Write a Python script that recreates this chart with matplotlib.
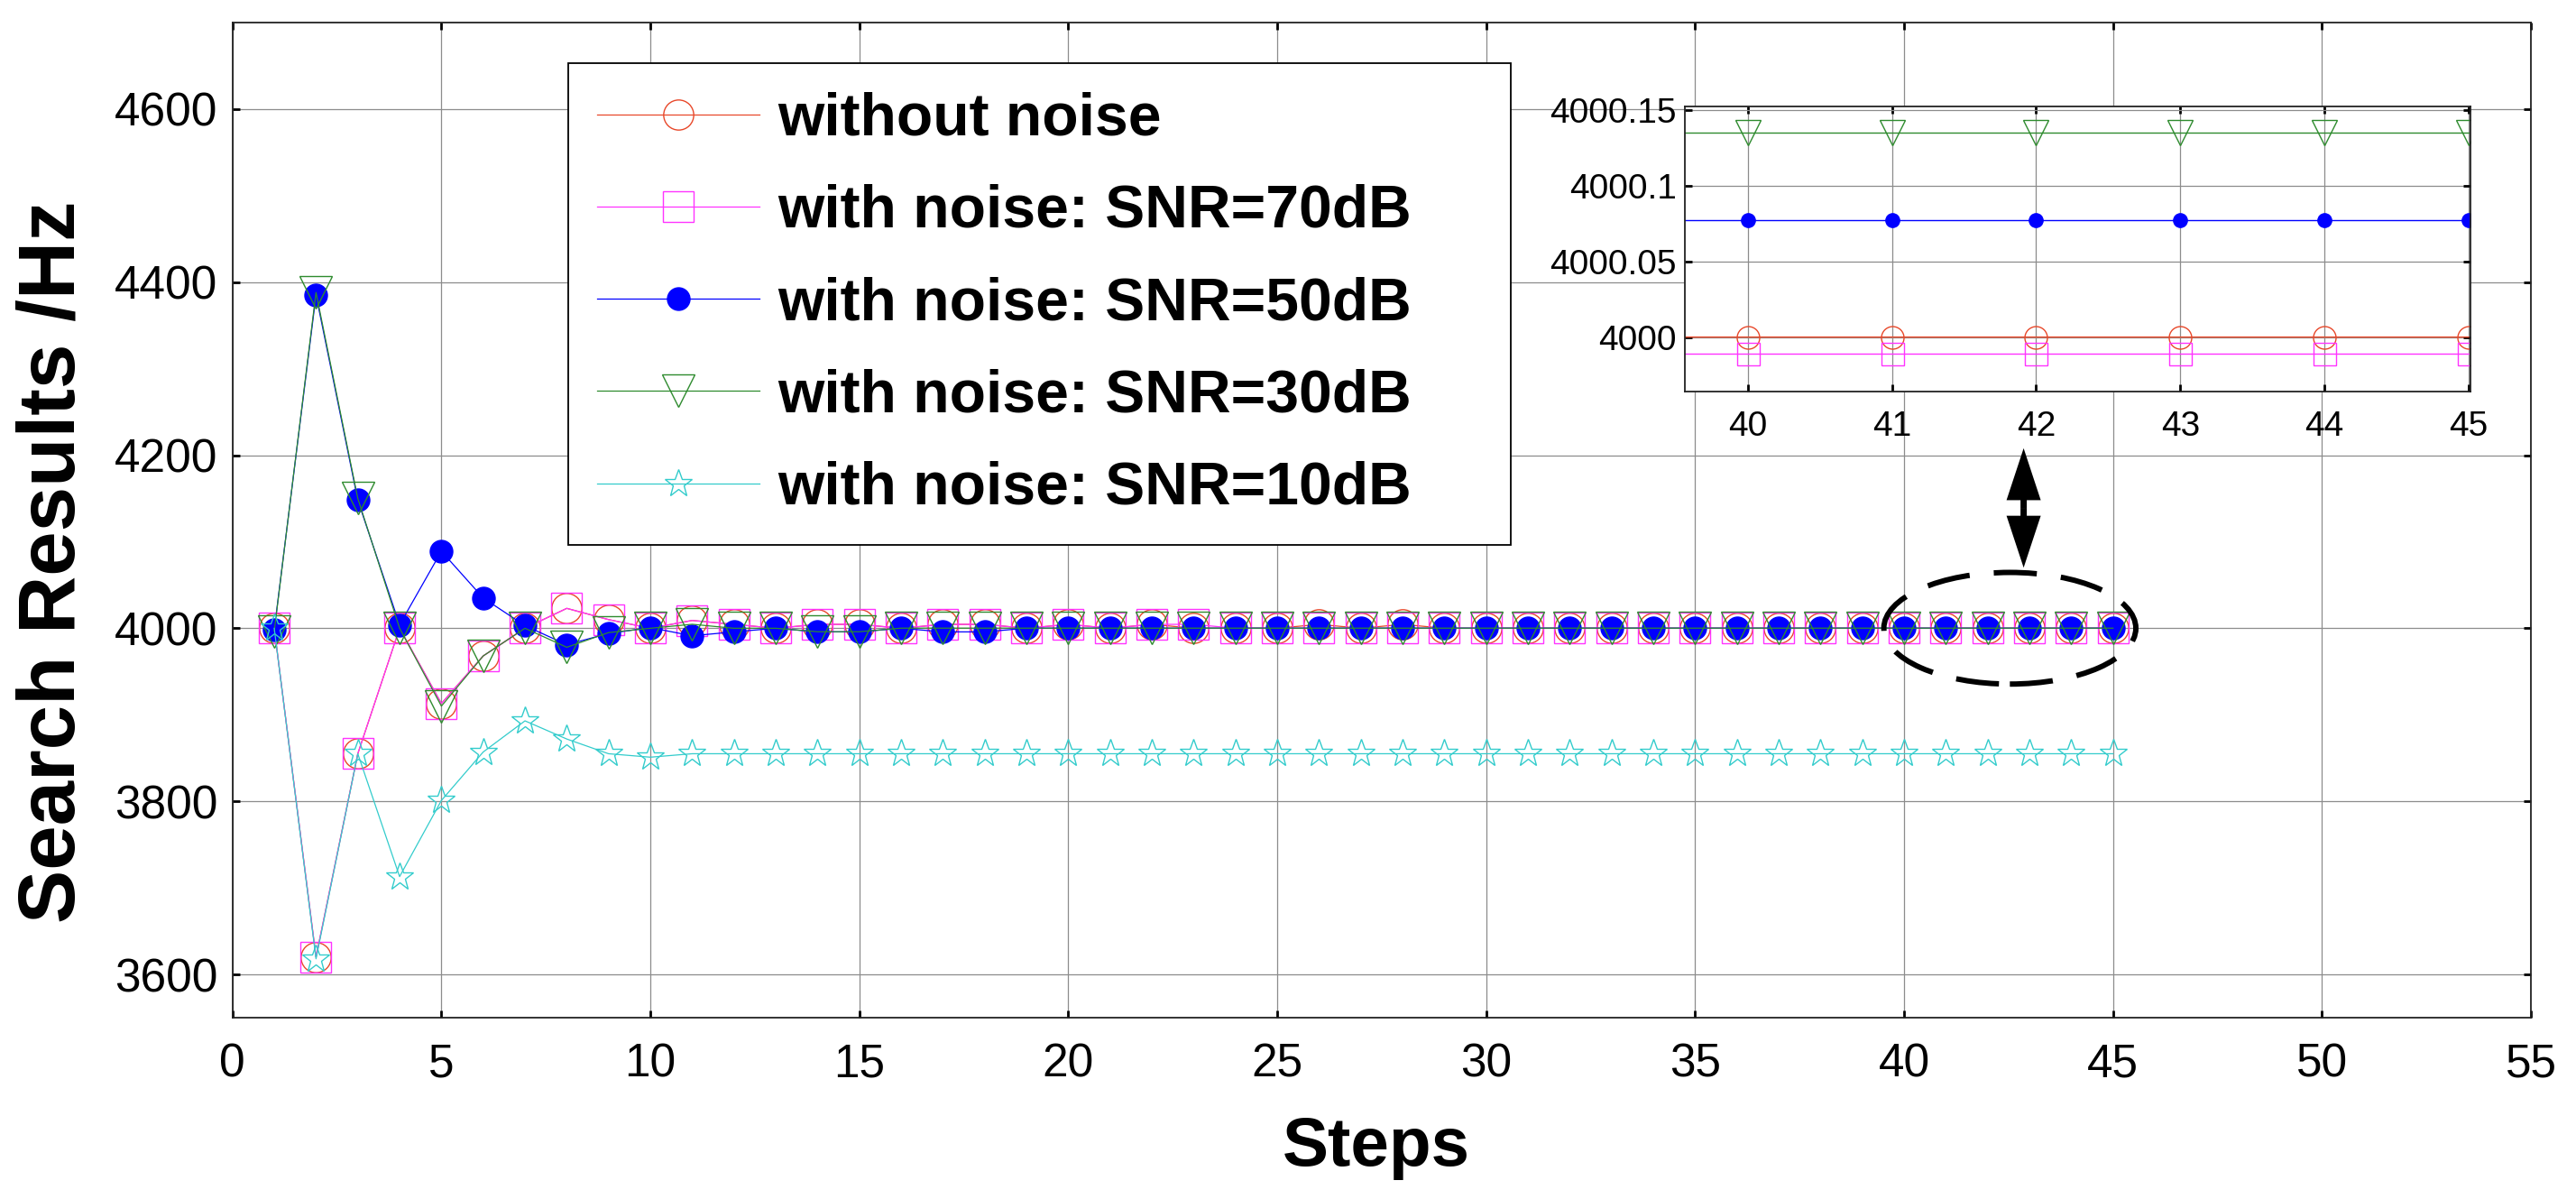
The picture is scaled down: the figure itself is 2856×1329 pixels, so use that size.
import numpy as np
import matplotlib
matplotlib.use("Agg")
import matplotlib.pyplot as plt
from matplotlib.patches import Ellipse

plt.rcParams["font.family"] = ["Liberation Sans", "DejaVu Sans"]

# ---- data ----
steps = np.arange(1, 46)

no_noise = [4000, 3620, 3855, 4000, 3913, 3968, 4000, 4023, 4010, 4000,
            4009, 4004.5, 4000, 4004.5, 4004.5, 4000, 4004.5, 4004.5, 4000, 4004.5,
            4000, 4004.5, 4000, 4000, 4000, 4004.5, 4000, 4004.5] + [4000.0] * 17
snr70 = [4000, 3620, 3855, 4000, 3913, 3968, 4000, 4023, 4010, 4000,
         4009, 4004.5, 4000, 4004.5, 4004.5, 4000, 4004.5, 4004.5, 4000, 4004.5,
         4000, 4004.5, 4004.5, 4000] + [3999.989] * 21
snr50 = [3998, 4385, 4148, 4004, 4089, 4035, 4003, 3981, 3994, 4000.7,
         3991.3, 3995.8, 4000, 3995.8, 3995.8, 4000, 3995.8, 3995.8] + [4000.077] * 27
snr30 = [3996.5, 4388, 4150, 4000, 3910, 3968, 4000, 3978, 3995, 4000,
         4004.6, 4000, 4000, 3996, 3996] + [4000.135] * 30
snr10 = [4000, 3618, 3855, 3713, 3801, 3857, 3893, 3872, 3855, 3851] + [3855] * 35

labels = ["without noise", "with noise: SNR=70dB", "with noise: SNR=50dB",
          "with noise: SNR=30dB", "with noise: SNR=10dB"]
series = [no_noise, snr70, snr50, snr30, snr10]

colors = ["#E8482A", "#FF33FF", "#0000FF", "#2E8B2E", "#33CCCC"]
markers = ["o", "s", "o", "v", "*"]
filled = [False, False, True, False, False]
ms_main = [24, 24, 18, 26, 23]
ms_inset = [18, 18, 11, 20, 18]

main_xticks = np.arange(0, 56, 5)
main_yticks = np.arange(3600, 4601, 200)
inset_xticks = np.arange(40, 46)
inset_yticks = [4000, 4000.05, 4000.1, 4000.15]
inset_yticklabels = ["4000", "4000.05", "4000.1", "4000.15"]

GRID = "#8c8c8c"


def style_axes(ax, size, xpad, ypad):
    ax.grid(True, color=GRID, lw=0.9, ls="-")
    ax.set_axisbelow(True)
    ax.tick_params(direction="in", top=True, right=True, length=6, width=2,
                   labelsize=size, colors="k")
    ax.tick_params(axis="x", pad=xpad)
    ax.tick_params(axis="y", pad=ypad)
    for sp in ax.spines.values():
        sp.set_linewidth(1.3)
        sp.set_color("#222222")


fig = plt.figure(figsize=(28.56, 13.29), dpi=100)
ax = fig.add_axes([0.09023, 0.15124, 0.8923, 0.8300])

for y, c, m, f, ms, lab in zip(series, colors, markers, filled, ms_main, labels):
    ax.plot(steps, y, color=c, lw=0.9, marker=m, ms=ms,
            mfc=c if f else "none", mec=c, mew=1.0, label=lab)

ax.set_xlim(0, 55)
ax.set_ylim(3550, 4700)
ax.set_xticks(main_xticks)
ax.set_yticks(main_yticks)
style_axes(ax, 37, 20, 12)

fig.text(60 / 2856, 1 - 623 / 1329, "Search Results /Hz", rotation=90,
         ha="center", va="center", fontsize=64, fontweight="bold")
fig.text(1526 / 2856, 1 - 1292 / 1329, "Steps", ha="center", va="baseline",
         fontsize=55, fontweight="bold")

leg = ax.legend(loc="upper left",
                bbox_to_anchor=(0.2206, 0.5448, 0.3659, 0.4025),
                bbox_transform=fig.transFigure, mode="expand",
                borderaxespad=0, borderpad=0.48, labelspacing=0.61,
                handlelength=2.74, handletextpad=0.3, fancybox=False,
                framealpha=1, edgecolor="k",
                prop={"weight": "bold", "size": 47.5})
leg.get_frame().set_linewidth(1.3)

# zoom marker: dashed ellipse + double arrow pointing at the inset
ax.add_patch(Ellipse((42.53, 4000), 6.03, 129, fill=False, ec="k", lw=4.3,
                     ls=(0, (8, 4.5)), zorder=5))
arrow_x, arrow_mid = 42.86, 4139
for dy in (69, -69):
    ax.arrow(arrow_x, arrow_mid, 0, dy, width=0.15, head_width=0.82,
             head_length=60, length_includes_head=True, fc="k", ec="k",
             lw=0, zorder=6)

# ---- inset ----
axi = fig.add_axes([0.6542, 0.6734, 0.3049, 0.2375])
axi.set_facecolor("white")
for y, c, m, f, ms in zip(series, colors, markers, filled, ms_inset):
    axi.plot(steps, y, color=c, lw=1.0, marker=m, ms=ms,
             mfc=c if f else "none", mec=c, mew=1.0)
axi.set_xlim(39.566, 45.014)
axi.set_ylim(3999.964, 4000.152)
axi.set_xticks(inset_xticks)
axi.set_yticks(inset_yticks)
axi.set_yticklabels(inset_yticklabels)
style_axes(axi, 28, 15, 7)

fig.savefig("out.png", dpi=100, facecolor="white")
